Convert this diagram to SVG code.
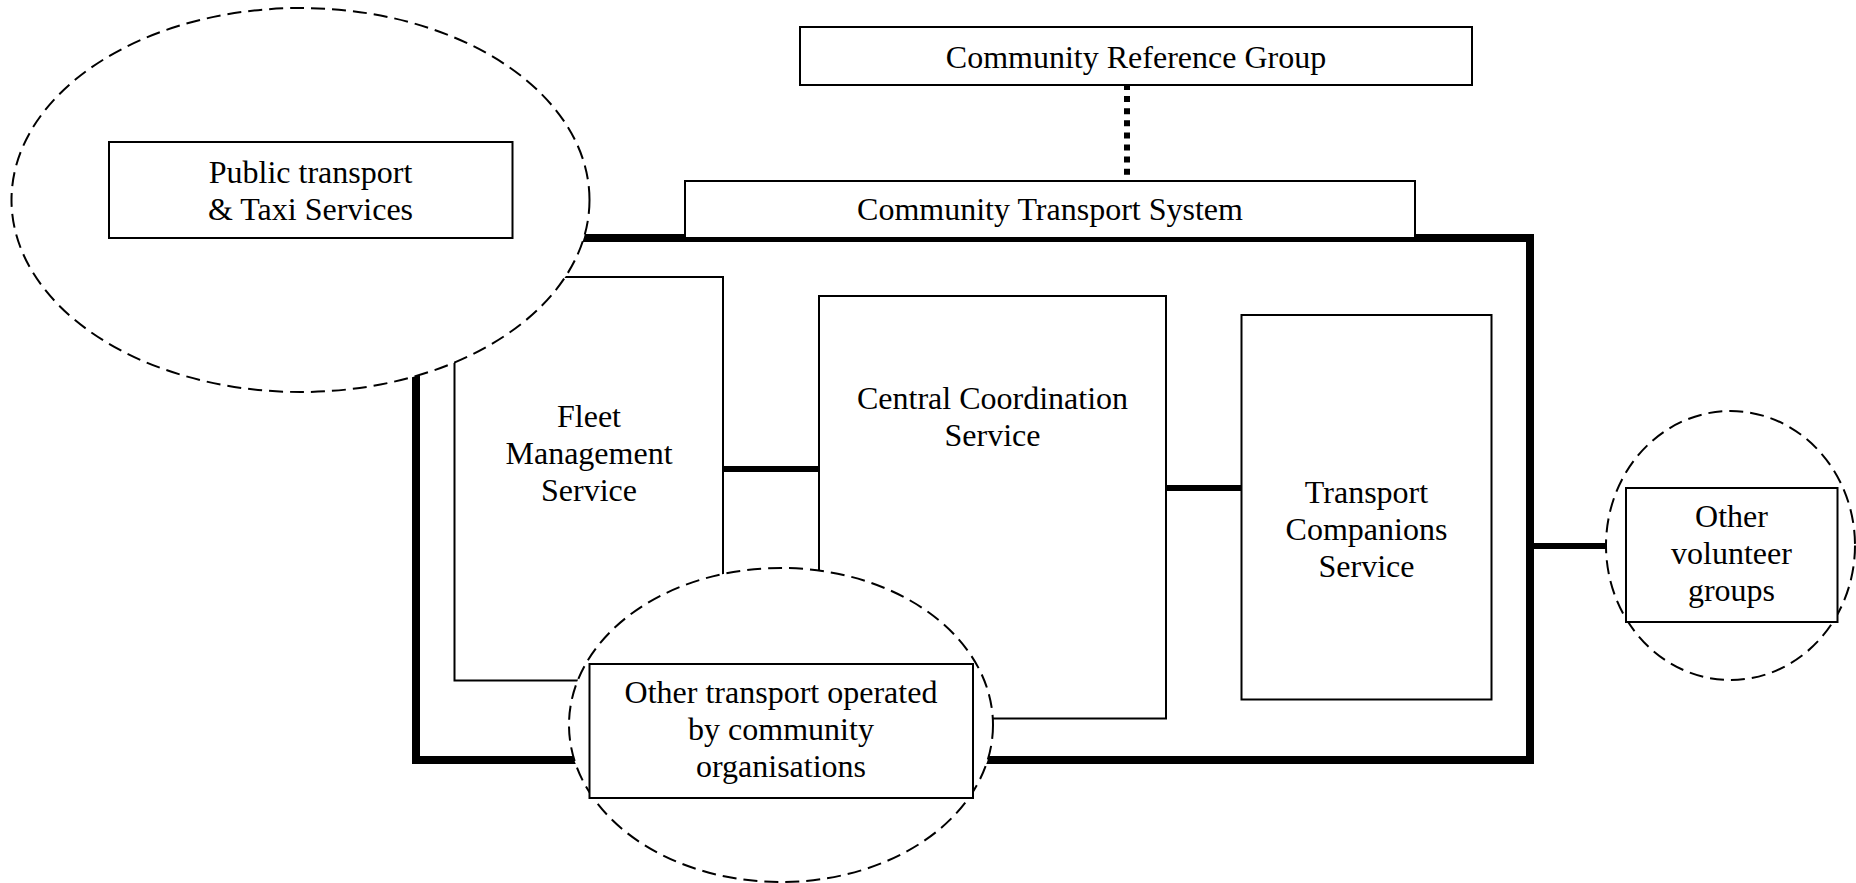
<svg xmlns="http://www.w3.org/2000/svg" width="1856" height="883" viewBox="0 0 1856 883">
  <style>
    .box { fill: #ffffff; stroke: #000000; stroke-width: 2; }
    .frame { fill: none; stroke: #000000; stroke-width: 8; }
    .cloud { fill: #ffffff; stroke: #000000; stroke-width: 2; stroke-dasharray: 14 7; }
    .link { stroke: #000000; stroke-width: 6; fill: none; }
    .dotted { stroke: #000000; stroke-width: 6; stroke-dasharray: 6 6.1; fill: none; }
    text { font-family: "Liberation Serif", "Times New Roman", serif; font-size: 32px; fill: #000000; text-anchor: middle; }
  </style>
  <rect width="1856" height="883" fill="#ffffff"/>

  <g id="system-frame">
    <rect class="frame" x="416" y="238" width="1114" height="522"/>
  </g>

  <g id="fleet-management">
    <rect class="box" x="454.5" y="277" width="268.5" height="403.5"/>
    <text x="589" y="426.5">Fleet</text>
    <text x="589" y="463.5">Management</text>
    <text x="589" y="500.5">Service</text>
  </g>

  <g id="central-coordination">
    <rect class="box" x="819" y="296" width="347" height="422.5"/>
    <text x="992.5" y="409">Central Coordination</text>
    <text x="992.5" y="445.5">Service</text>
  </g>

  <g id="transport-companions">
    <rect class="box" x="1241.5" y="315" width="250" height="384.5"/>
    <text x="1366.5" y="502.5">Transport</text>
    <text x="1366.5" y="539.5">Companions</text>
    <text x="1366.5" y="576.5">Service</text>
  </g>

  <g id="connectors">
    <line class="link" x1="723" y1="469" x2="819" y2="469"/>
    <line class="link" x1="1166" y1="488" x2="1241.5" y2="488"/>
    <line class="link" x1="1530" y1="546" x2="1606" y2="546"/>
    <line class="dotted" x1="1127" y1="84" x2="1127" y2="176"/>
  </g>

  <g id="community-transport-system">
    <rect class="box" x="685" y="181" width="730" height="57"/>
    <text x="1050" y="220">Community Transport System</text>
  </g>

  <g id="community-reference-group">
    <rect class="box" x="800" y="27" width="672" height="58"/>
    <text x="1136" y="68">Community Reference Group</text>
  </g>

  <g id="public-transport">
    <ellipse class="cloud" cx="300.5" cy="200" rx="289" ry="192"/>
    <rect class="box" x="109" y="142" width="403.5" height="96"/>
    <text x="310.5" y="182.5">Public transport</text>
    <text x="310.5" y="220">&amp; Taxi Services</text>
  </g>

  <g id="other-transport">
    <ellipse class="cloud" cx="781" cy="725" rx="212" ry="157"/>
    <rect class="box" x="589.5" y="664" width="383.5" height="134"/>
    <text x="781" y="703">Other transport operated</text>
    <text x="781" y="740">by community</text>
    <text x="781" y="777">organisations</text>
  </g>

  <g id="other-volunteer-groups">
    <ellipse class="cloud" cx="1730.5" cy="545.5" rx="124.5" ry="134.5"/>
    <rect class="box" x="1626" y="488" width="211.5" height="134"/>
    <text x="1731.5" y="527">Other</text>
    <text x="1731.5" y="564">volunteer</text>
    <text x="1731.5" y="601">groups</text>
  </g>
</svg>
